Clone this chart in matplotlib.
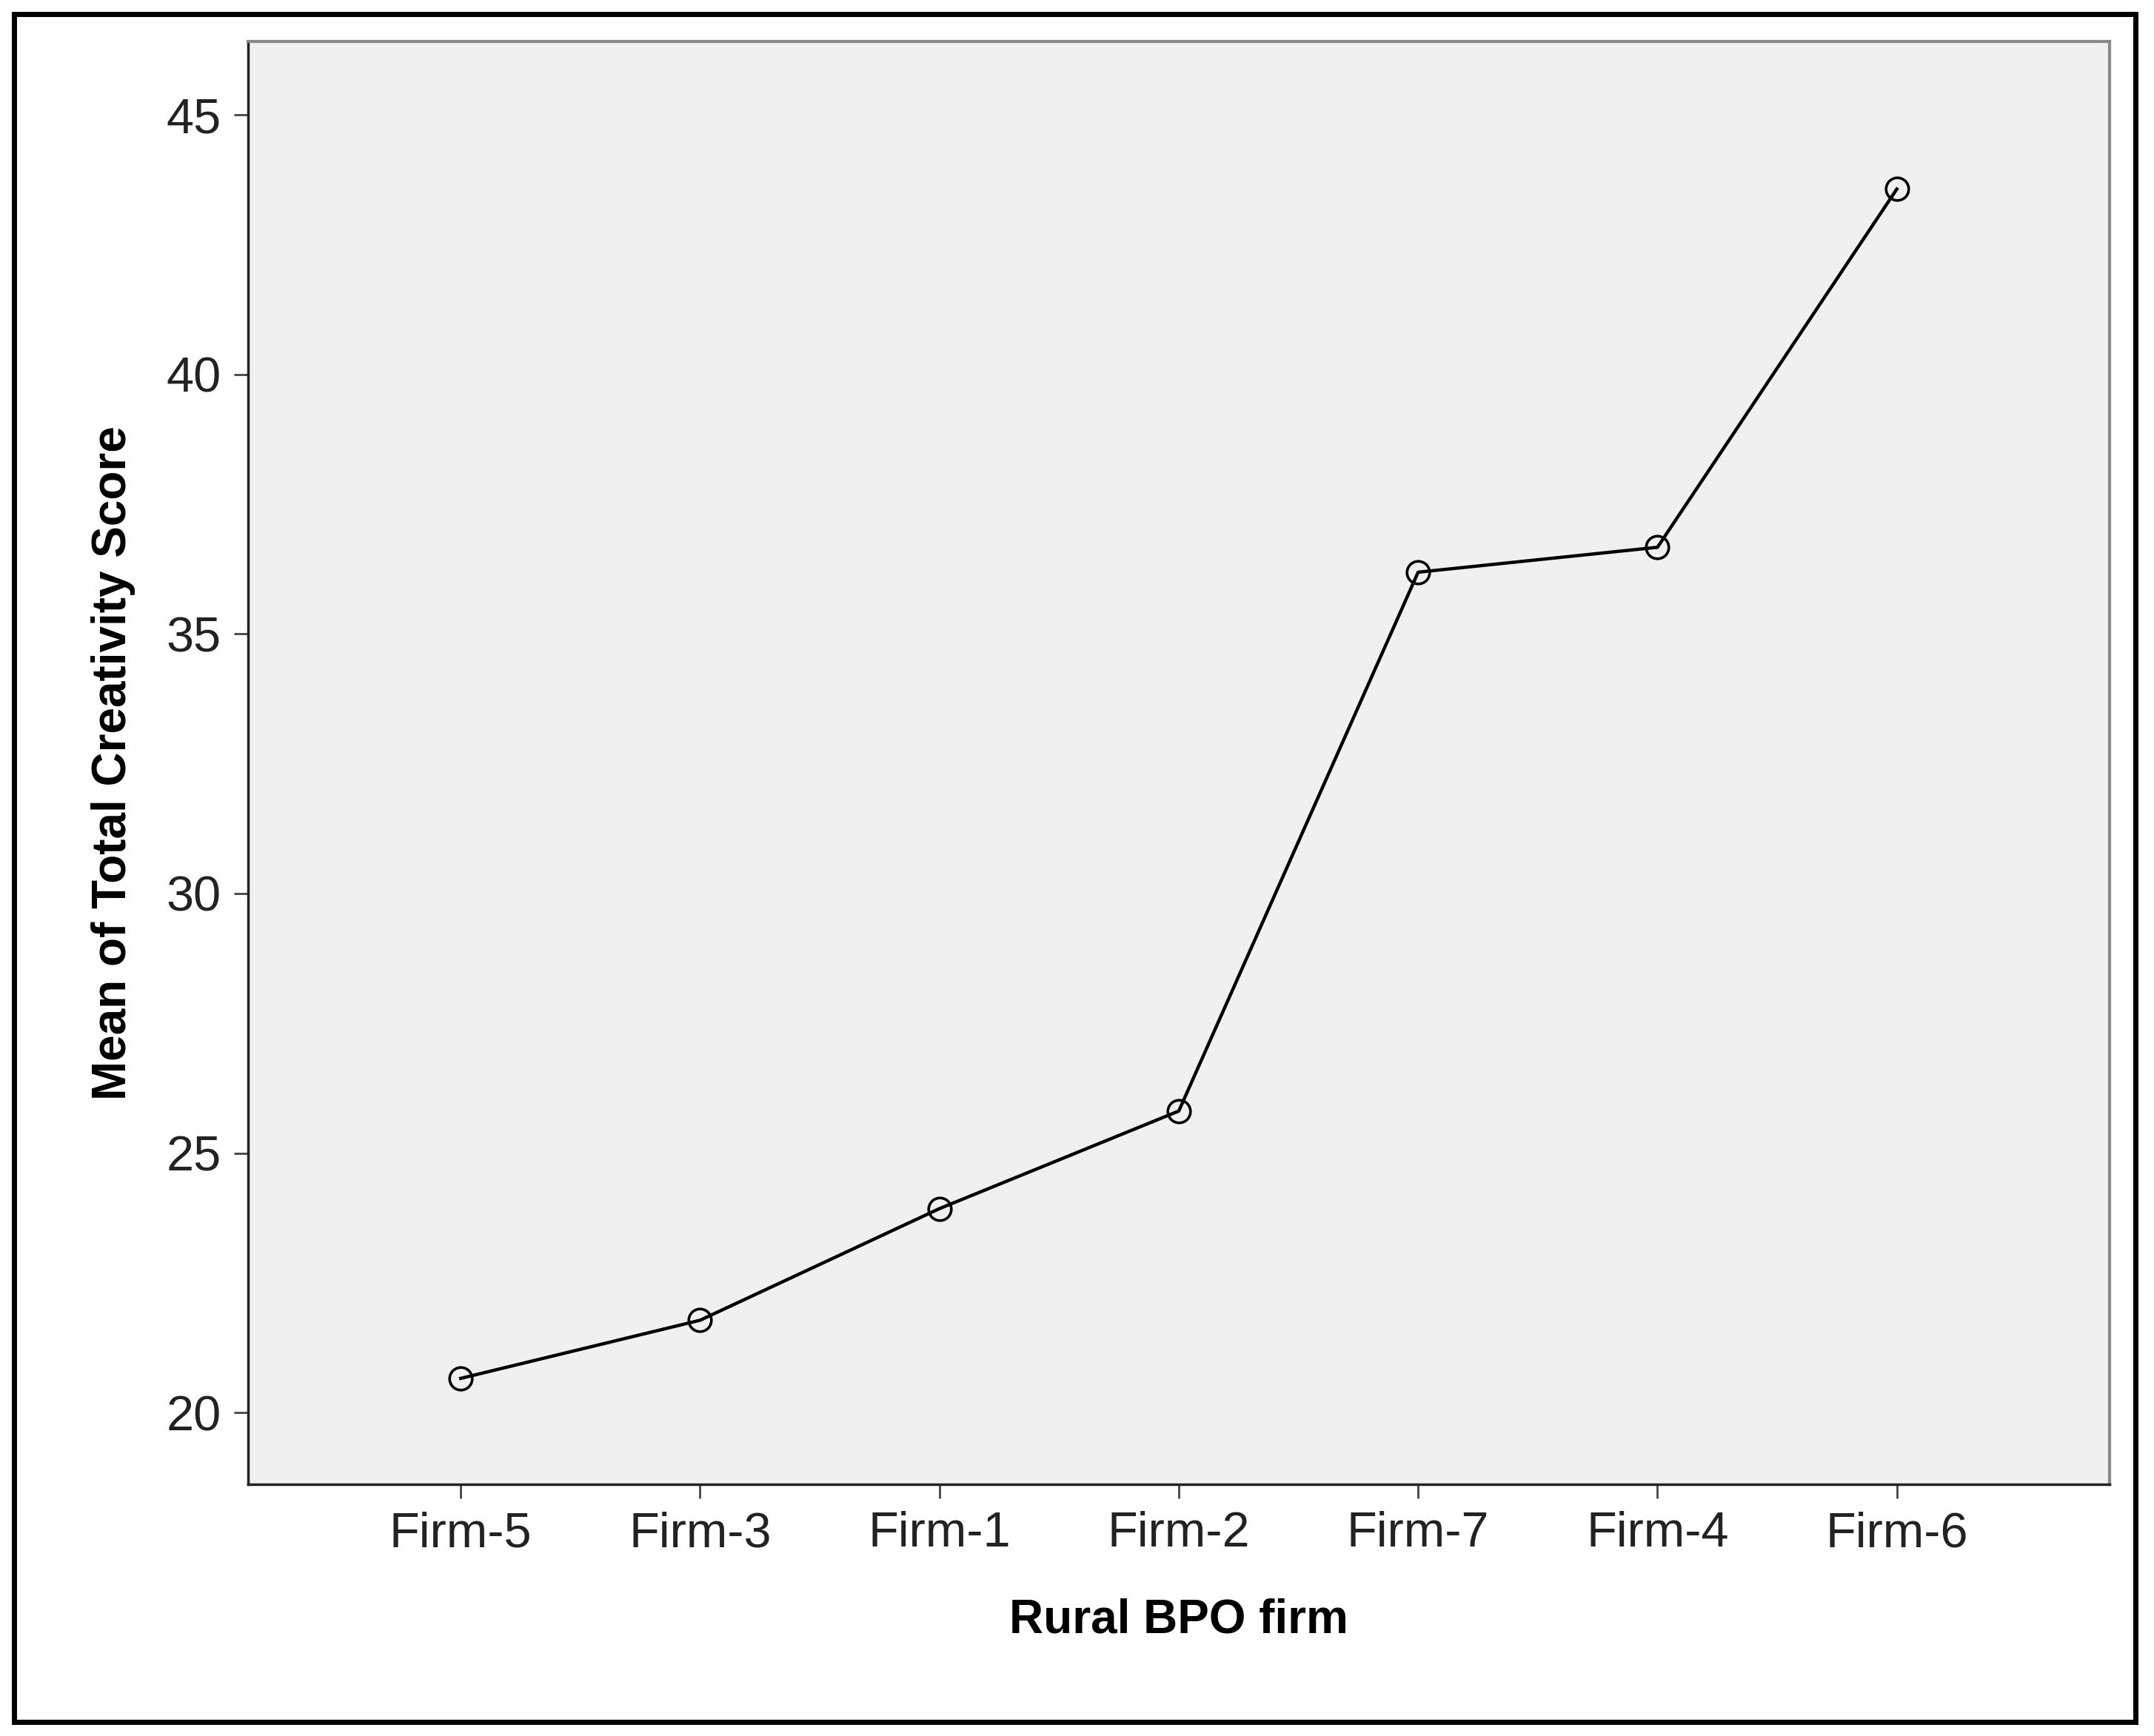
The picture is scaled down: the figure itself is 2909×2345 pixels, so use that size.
import matplotlib
matplotlib.use("Agg")
import matplotlib.pyplot as plt
from matplotlib.patches import Rectangle

plt.rcParams['font.family'] = ['Liberation Sans', 'DejaVu Sans']

firms = ["Firm-5", "Firm-3", "Firm-1", "Firm-2", "Firm-7", "Firm-4", "Firm-6"]
scores = [20.66, 21.78, 23.93, 25.81, 36.19, 36.67, 43.57]
yticks = [20, 25, 30, 35, 40, 45]

fig = plt.figure(figsize=(29.09, 23.45), dpi=100)
ax = fig.add_axes([0.115, 0.145, 0.8645, 0.831])
ax.set_facecolor('#f0f0f0')

x = list(range(len(firms)))
ax.plot(x, scores, color='black', lw=3.2, marker='o', markersize=22,
        markerfacecolor='none', markeredgecolor='black', markeredgewidth=2.6)

ax.set_xlim(-0.89, 6.89)
ax.set_ylim(18.62, 46.41)
ax.set_xticks(x)
ax.set_xticklabels(firms)
ax.set_yticks(yticks)
ax.tick_params(labelsize=48, length=14, width=2, color='#444444', labelcolor='#222222', pad=12)
for s in ['top', 'right']:
    ax.spines[s].set_color('#888888')
    ax.spines[s].set_linewidth(3)
for s in ['left', 'bottom']:
    ax.spines[s].set_color('#222222')
    ax.spines[s].set_linewidth(2.5)

ax.set_xlabel("Rural BPO firm", fontsize=46, fontweight='bold', labelpad=40)
ax.set_ylabel("Mean of Total Creativity Score", fontsize=46, fontweight='bold', labelpad=30)

fig.patches.append(Rectangle((0.0064, 0.008), 0.985, 0.984, transform=fig.transFigure,
                             fill=False, edgecolor='black', lw=5))

fig.savefig("out.png", dpi=100, facecolor='white')
